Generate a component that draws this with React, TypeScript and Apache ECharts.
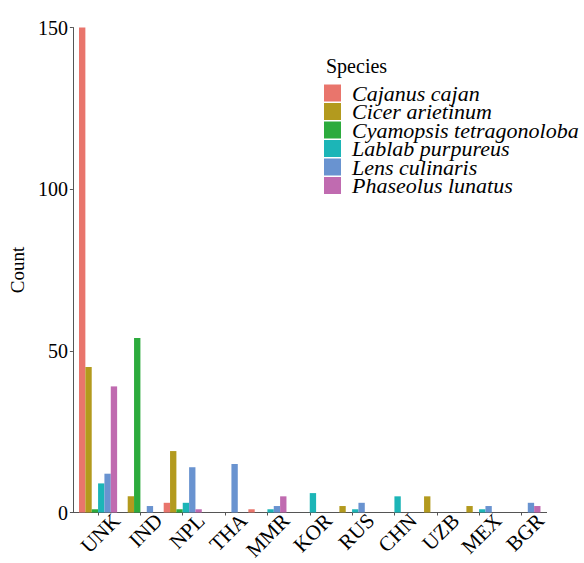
import React, { useEffect, useRef } from "react";
import * as echarts from "echarts";

const categories = ["UNK", "IND", "NPL", "THA", "MMR", "KOR", "RUS", "CHN", "UZB", "MEX", "BGR"];
const speciesNames = [
  "Cajanus cajan",
  "Cicer arietinum",
  "Cyamopsis tetragonoloba",
  "Lablab purpureus",
  "Lens culinaris",
  "Phaseolus lunatus",
];
const cajanusCajan = [150, 0, 3, 0, 1, 0, 0, 0, 0, 0, 0];
const cicerArietinum = [45, 5, 19, 0, 0, 0, 2, 0, 5, 2, 0];
const cyamopsisTetragonoloba = [1, 54, 1, 0, 0, 0, 0, 0, 0, 0, 0];
const lablabPurpureus = [9, 0, 3, 0, 1, 6, 1, 5, 0, 1, 0];
const lensCulinaris = [12, 2, 14, 15, 2, 0, 3, 0, 0, 2, 3];
const phaseolusLunatus = [39, 0, 1, 0, 5, 0, 0, 0, 0, 0, 2];
const speciesValues = [
  cajanusCajan,
  cicerArietinum,
  cyamopsisTetragonoloba,
  lablabPurpureus,
  lensCulinaris,
  phaseolusLunatus,
];
const yTicks = { min: 0, max: 150, interval: 50 };

const colors = ["#E9756C", "#B39A1E", "#2CAB3D", "#1CB5B7", "#6993D0", "#C06BB0"];
const FONT = "Liberation Serif";

export default function App() {
  const ref = useRef<HTMLDivElement>(null);
  useEffect(() => {
    if (!ref.current) return;
    const chart = echarts.init(ref.current, undefined, { renderer: "svg" });
    const gridTop = 27.5;
    const gridBottom = 50.5;
    const barLeft = 76.2;
    const barRight = 41.4;
    const labelShift = 19;
    chart.setOption({
      animation: false,
      backgroundColor: "#ffffff",
      color: colors,
      textStyle: { fontFamily: FONT },
      title: {
        text: "Species",
        left: 321,
        top: 51,
        textStyle: { fontFamily: FONT, fontSize: 20, fontWeight: "normal", color: "#000" },
      },
      legend: {
        orient: "vertical",
        left: 324,
        top: 82,
        padding: 0,
        itemWidth: 17,
        itemHeight: 17,
        itemGap: -3.5,
        icon: "rect",
        data: speciesNames,
        textStyle: {
          fontFamily: FONT,
          fontSize: 22,
          fontStyle: "italic",
          color: "#000",
          padding: [0, 0, 0, 6],
        },
      },
      grid: [
        { left: barLeft, right: barRight, top: gridTop, bottom: gridBottom },
        { left: barLeft + labelShift, right: barRight - labelShift, top: gridTop, bottom: gridBottom },
      ],
      xAxis: [
        {
          type: "category",
          gridIndex: 0,
          data: categories,
          axisLine: { show: false },
          axisTick: { show: true, alignWithLabel: true, length: 3, lineStyle: { color: "#555" } },
          axisLabel: { show: false },
          splitLine: { show: false },
        },
        {
          type: "category",
          gridIndex: 1,
          data: categories,
          axisLine: { show: false },
          axisTick: { show: false },
          axisLabel: {
            show: true,
            rotate: 45,
            margin: 13,
            interval: 0,
            fontFamily: FONT,
            fontSize: 21,
            color: "#000",
          },
          splitLine: { show: false },
        },
      ],
      yAxis: [
        {
          type: "value",
          gridIndex: 0,
          min: yTicks.min,
          max: yTicks.max,
          interval: yTicks.interval,
          offset: 4,
          name: "Count",
          nameLocation: "middle",
          nameGap: 42,
          nameTextStyle: { fontFamily: FONT, fontSize: 19, color: "#000" },
          axisLine: { show: true, lineStyle: { color: "#555", width: 1 } },
          axisTick: { show: true, length: 3, lineStyle: { color: "#555" } },
          axisLabel: { fontFamily: FONT, fontSize: 20, color: "#000", margin: 5 },
          splitLine: { show: false },
        },
        {
          type: "value",
          gridIndex: 1,
          min: yTicks.min,
          max: yTicks.max,
          show: false,
        },
      ],
      graphic: [
        {
          type: "line",
          shape: { x1: 72, y1: 563 - gridBottom, x2: 547, y2: 563 - gridBottom },
          style: { stroke: "#555", lineWidth: 1 },
          silent: true,
        },
      ],
      series: speciesNames.map((name, i) => ({
        name,
        type: "bar",
        xAxisIndex: 0,
        yAxisIndex: 0,
        data: speciesValues[i],
        barGap: "0%",
        barCategoryGap: "10%",
        itemStyle: { color: colors[i] },
      })),
    });
    return () => chart.dispose();
  }, []);
  return (
    <div
      ref={ref}
      style={{ position: "fixed", left: 0, top: 0, width: 584, height: 563 }}
    />
  );
}
